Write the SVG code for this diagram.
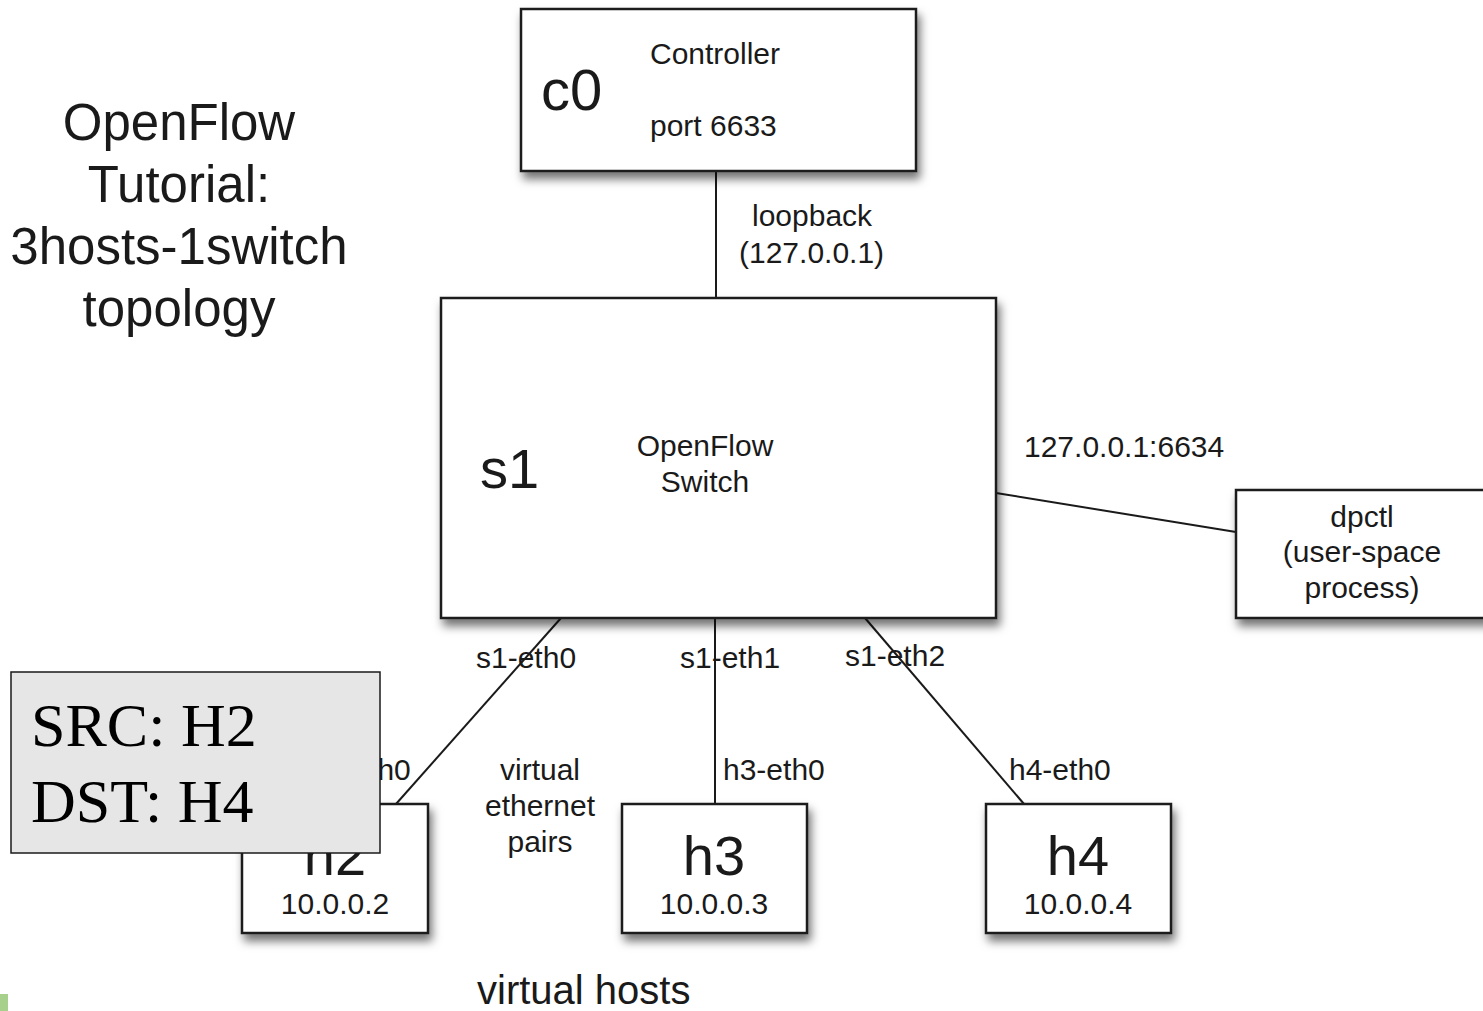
<svg xmlns="http://www.w3.org/2000/svg" width="1483" height="1011" viewBox="0 0 1483 1011">
<defs>
<filter id="sh" x="-10%" y="-10%" width="130%" height="140%">
<feDropShadow dx="3" dy="7" stdDeviation="5" flood-color="#000" flood-opacity="0.55"/>
</filter>
<style>
.box{fill:#fff;stroke:#1a1a1a;stroke-width:2.5;filter:url(#sh)}
.t{font-family:"Liberation Sans",Arial,sans-serif;fill:#1a1a1a}
.s{font-size:30px}
.b{font-size:56px}
.c{text-anchor:middle}
.ln{stroke:#1a1a1a;stroke-width:2;fill:none}
</style>
</defs>
<rect width="1483" height="1011" fill="#fff"/>
<g id="title">
<text class="t c" x="179" y="140" font-size="51">OpenFlow</text>
<text class="t c" x="179" y="202" font-size="51">Tutorial:</text>
<text class="t c" x="179" y="264" font-size="51">3hosts-1switch</text>
<text class="t c" x="179" y="326" font-size="51">topology</text>
</g>
<g id="connectors">
<line class="ln" x1="716" y1="171" x2="716" y2="298"/>
<line class="ln" x1="996" y1="493" x2="1236" y2="532"/>
<line class="ln" x1="561" y1="618" x2="396" y2="804"/>
<line class="ln" x1="715" y1="618" x2="715" y2="804"/>
<line class="ln" x1="865" y1="618" x2="1024" y2="804"/>
<text class="t s" x="752" y="226">loopback</text>
<text class="t s" x="739" y="263">(127.0.0.1)</text>
<text class="t s" x="1024" y="457">127.0.0.1:6634</text>
<text class="t s" x="476" y="668">s1-eth0</text>
<text class="t s" x="680" y="668">s1-eth1</text>
<text class="t s" x="845" y="666">s1-eth2</text>
<text class="t s" x="309" y="780">h2-eth0</text>
<text class="t s" x="723" y="780">h3-eth0</text>
<text class="t s" x="1009" y="780">h4-eth0</text>
<text class="t s c" x="540" y="780">virtual</text>
<text class="t s c" x="540" y="816">ethernet</text>
<text class="t s c" x="540" y="852">pairs</text>
</g>
<g id="c0">
<rect class="box" x="521" y="9" width="395" height="162"/>
<text class="t" x="541" y="110" font-size="58">c0</text>
<text class="t s" x="650" y="64">Controller</text>
<text class="t s" x="650" y="136">port 6633</text>
</g>
<g id="s1">
<rect class="box" x="441" y="298" width="555" height="320"/>
<text class="t b" x="480" y="488">s1</text>
<text class="t s c" x="705" y="456">OpenFlow</text>
<text class="t s c" x="705" y="492">Switch</text>
</g>
<g id="dpctl">
<rect class="box" x="1236" y="490" width="260" height="128"/>
<text class="t s c" x="1362" y="527">dpctl</text>
<text class="t s c" x="1362" y="562">(user-space</text>
<text class="t s c" x="1362" y="598">process)</text>
</g>
<g id="h2">
<rect class="box" x="242" y="804" width="186" height="129"/>
<text class="t b c" x="335" y="875">h2</text>
<text class="t s c" x="335" y="914">10.0.0.2</text>
</g>
<g id="h3">
<rect class="box" x="622" y="804" width="185" height="129"/>
<text class="t b c" x="714" y="875">h3</text>
<text class="t s c" x="714" y="914">10.0.0.3</text>
</g>
<g id="h4">
<rect class="box" x="986" y="804" width="185" height="129"/>
<text class="t b c" x="1078" y="875">h4</text>
<text class="t s c" x="1078" y="914">10.0.0.4</text>
</g>
<g id="virtual-hosts">
<text class="t" x="477" y="1004" font-size="40">virtual hosts</text>
</g>
<g id="note">
<rect x="11" y="672" width="369" height="181" fill="#e6e6e6" stroke="#1a1a1a" stroke-width="1.5"/>
<text x="31" y="746" font-family="'Liberation Serif','Times New Roman',serif" font-size="62" fill="#000">SRC: H2</text>
<text x="31" y="822" font-family="'Liberation Serif','Times New Roman',serif" font-size="62" fill="#000">DST: H4</text>
</g>
<rect x="0" y="994" width="8" height="17" fill="#a8d08d"/>
</svg>
